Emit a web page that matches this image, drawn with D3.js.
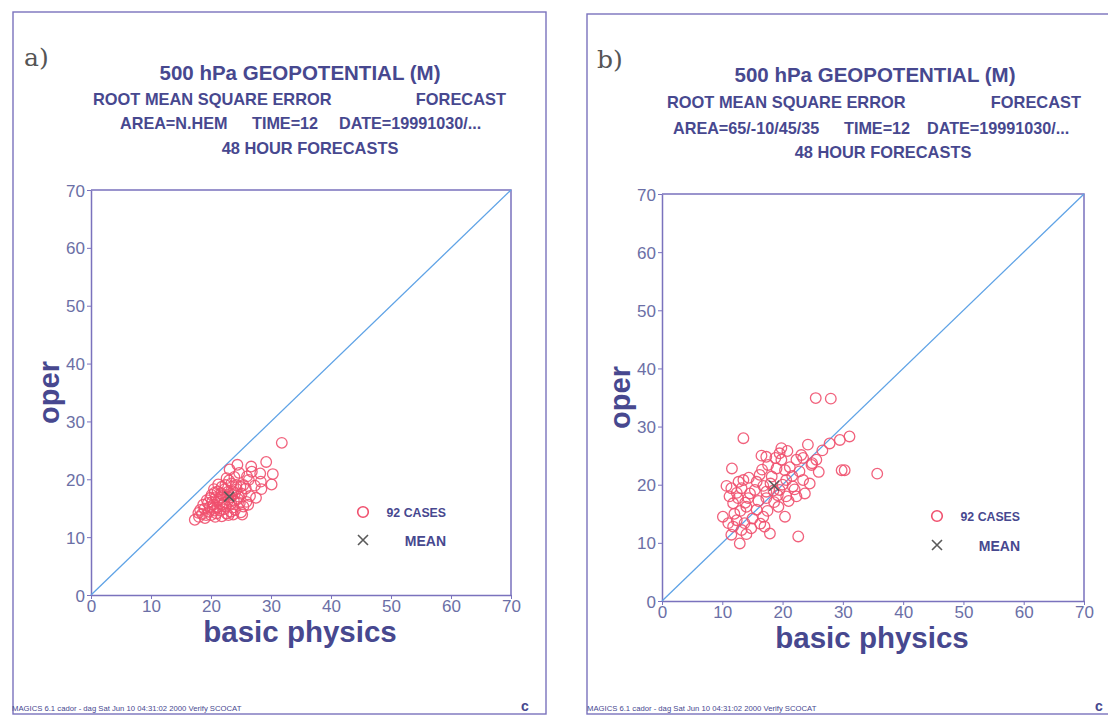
<!DOCTYPE html>
<html><head><meta charset="utf-8">
<script src="https://cdn.jsdelivr.net/npm/d3@7"></script>
<style>
html,body{margin:0;padding:0;background:#fff;}
svg{display:block;font-family:"Liberation Sans",Arial,sans-serif;}
</style></head>
<body><svg id="chart" width="1108" height="715"></svg>
<script>
// ---------- DATA ----------
const axisTicks = [0, 10, 20, 30, 40, 50, 60, 70];
const panelLetters = ["a)", "b)"];
const titleMain = "500 hPa GEOPOTENTIAL (M)";
const titleRow2 = ["ROOT MEAN SQUARE ERROR", "FORECAST"];
const areaTexts = ["AREA=N.HEM", "AREA=65/-10/45/35"];
const timeText = "TIME=12";
const dateText = "DATE=19991030/...";
const titleRow4 = "48 HOUR FORECASTS";
const xLabel = "basic physics";
const yLabel = "oper";
const casesLabel = "92 CASES";
const meanLabel = "MEAN";
const footerText = "MAGICS 6.1 cador - dag Sat Jun 10 04:31:02 2000 Verify SCOCAT";

// panel a: [basic physics, oper]
const pointsA = [
 [31.8,26.3],[29.2,23.0],[24.4,22.5],[26.7,22.2],[24.7,21.1],[26.8,21.3],[28.2,21.0],[30.3,20.9],
 [26.3,19.9],[28.3,19.6],[30.1,19.1],[28.4,18.3],[25.4,19.0],[23.4,19.3],[21.8,18.7],[23.7,17.9],
 [21.1,17.9],[20.1,17.3],[24.6,17.0],[25.9,16.1],[25.4,15.3],[19.3,16.4],[18.7,15.6],[20.4,15.6],
 [21.5,15.8],[23.4,15.8],[18.2,14.7],[19.6,14.4],[20.9,14.1],[22.6,14.1],[24.0,14.7],[17.3,13.0],
 [19.0,13.3],[20.7,13.5],[22.9,13.8],[22.0,17.2],[22.8,17.8],[23.2,16.9],[21.3,16.5],[20.8,16.9],
 [22.2,16.0],[23.8,16.3],[24.3,18.3],[21.7,17.6],[20.2,16.1],[19.8,15.2],[21.0,15.1],[22.5,15.3],
 [23.6,15.1],[24.8,15.9],[25.1,17.5],[26.5,17.1],[22.3,18.3],[23.0,19.8],[21.5,14.6],[20.0,13.8],
 [18.5,14.0],[23.3,14.4],[24.5,16.6],[19.5,15.9],[21.9,15.6],[22.9,16.4],[20.6,17.7],[24.0,17.6],
 [25.8,18.4],[27.3,18.9],[23.9,20.4],[22.6,20.2],[21.2,19.1],[18.9,14.9],[17.9,14.2],[20.3,14.9],
 [23.7,13.9],[25.0,14.3],[26.2,15.6],[22.1,14.8],[21.6,16.9],[23.5,17.3],[19.2,13.8],[18.0,13.5],
 [24.2,19.0],[26.0,20.5],[22.4,19.0],[20.5,18.3],[21.8,13.6],[25.2,13.9],[27.5,16.8],[22.7,17.0],
 [19.9,16.8],[24.9,18.7],[23.1,21.7],[20.6,14.6]
];
// panel b: [basic physics, oper]
const pointsB = [
 [25.5,34.9],[28.0,34.8],[13.5,28.0],[31.1,28.3],[29.5,27.7],[27.8,27.1],[24.2,26.9],[26.6,25.9],
 [19.8,26.3],[19.5,25.4],[16.5,25.0],[17.3,24.8],[23.1,25.1],[23.4,24.6],[24.9,23.7],[19.8,24.3],
 [22.3,24.3],[24.8,23.4],[17.6,23.4],[11.6,22.8],[20.4,22.5],[29.8,22.5],[30.3,22.5],[22.8,22.3],
 [16.2,21.7],[18.2,21.4],[20.6,20.8],[23.4,20.8],[10.7,19.8],[13.5,20.8],[15.7,20.5],[11.5,19.4],
 [13.2,19.4],[15.4,19.1],[17.3,18.8],[19.5,19.1],[21.7,19.7],[23.7,18.5],[20.6,18.0],[22.3,18.0],
 [12.6,17.7],[14.3,17.7],[17.3,17.7],[11.8,16.8],[14.0,16.2],[19.3,16.2],[15.7,15.7],[20.4,14.5],
 [10.1,14.5],[16.8,14.5],[12.4,13.9],[13.7,13.4],[11.0,13.4],[11.8,12.8],[14.8,12.5],[13.2,12.2],
 [17.9,11.6],[11.5,11.4],[22.6,11.1],[12.9,9.9],[35.7,21.9],[18.0,20.2],[19.0,22.8],[21.2,23.0],
 [16.8,19.8],[14.6,18.5],[18.6,17.0],[21.0,17.2],[16.0,17.2],[13.0,15.5],[15.0,14.2],[12.0,15.0],
 [17.5,15.5],[18.5,19.0],[20.0,20.0],[21.6,21.5],[14.4,21.2],[12.4,18.6],[16.6,22.6],[22.0,19.2],
 [19.2,18.2],[24.5,20.2],[25.6,24.3],[20.8,25.8],[18.8,24.6],[13.8,16.9],[11.2,18.0],[16.3,13.3],
 [14.0,11.5],[12.7,20.5],[17.0,12.8],[26.0,22.2]
];

// ---------- STYLE / LAYOUT ----------
const C = {
  text: "#47488f", tick: "#6b6fa6", frame: "#7a72bd", diag: "#5fa3e6",
  circle: "#f0506e", mean: "#5a5a5a", letter: "#555"
};

const panels = [
 { letter: panelLetters[0], pts: pointsA,
   frame: {x1: 13, y1: 12, x2: 546, y2: 714},
   xr: [91, 511], yr: [595, 190],
   letterPos: [24, 66],
   titleY: [80, 105, 129, 154], titleX: 300, row2: [93, 506],
   row3: [[120, areaTexts[0]], [252, timeText], [339, dateText]], row4X: 310,
   legend: {cx: 363, cy: 512, tx: 446, my: 540},
   footer: [12, 711], logo: [521, 711] },
 { letter: panelLetters[1], pts: pointsB,
   frame: {x1: 587, y1: 14, x2: 1140, y2: 714},
   xr: [662, 1084], yr: [601, 194],
   letterPos: [597, 68],
   titleY: [82, 108, 134, 158], titleX: 875, row2: [667, 1081],
   row3: [[673, areaTexts[1]], [844, timeText], [927, dateText]], row4X: 883,
   legend: {cx: 937, cy: 516, tx: 1020, my: 545},
   footer: [587, 711], logo: [1095, 711] }
];

const svg = d3.select("#chart");

panels.forEach(p => {
  const g = svg.append("g");
  // outer frame
  g.append("rect").attr("x", p.frame.x1).attr("y", p.frame.y1)
    .attr("width", p.frame.x2 - p.frame.x1).attr("height", p.frame.y2 - p.frame.y1)
    .attr("fill", "none").attr("stroke", C.frame).attr("stroke-width", 1.4);

  // panel letter
  g.append("text").attr("x", p.letterPos[0]).attr("y", p.letterPos[1])
    .attr("font-family", "'DejaVu Serif','Liberation Serif',serif").attr("font-size", 25)
    .attr("fill", C.letter).text(p.letter);

  // titles
  const bold = s => s.attr("font-weight", "bold").attr("fill", C.text);
  bold(g.append("text").attr("x", p.titleX).attr("y", p.titleY[0]).attr("text-anchor", "middle")
    .attr("font-size", 20.5).text(titleMain));
  bold(g.append("text").attr("x", p.row2[0]).attr("y", p.titleY[1]).attr("font-size", 16.4).text(titleRow2[0]));
  bold(g.append("text").attr("x", p.row2[1]).attr("y", p.titleY[1]).attr("text-anchor", "end").attr("font-size", 16.4).text(titleRow2[1]));
  p.row3.forEach(([x, t]) => bold(g.append("text").attr("x", x).attr("y", p.titleY[2]).attr("font-size", 16.2).text(t)));
  bold(g.append("text").attr("x", p.row4X).attr("y", p.titleY[3]).attr("text-anchor", "middle").attr("font-size", 16.4).text(titleRow4));

  // scales
  const x = d3.scaleLinear().domain([0, 70]).range(p.xr);
  const y = d3.scaleLinear().domain([0, 70]).range(p.yr);

  // plot box (top & right)
  g.append("path").attr("d", `M${x(0)},${y(70)}H${x(70)}V${y(0)}`)
    .attr("fill", "none").attr("stroke", C.frame).attr("stroke-width", 1.5);

  // axes
  const xa = g.append("g").attr("transform", `translate(0,${y(0)})`)
    .call(d3.axisBottom(x).tickValues(axisTicks).tickSize(4).tickPadding(1).tickSizeOuter(0));
  const ya = g.append("g").attr("transform", `translate(${x(0)},0)`)
    .call(d3.axisLeft(y).tickValues(axisTicks).tickSize(4).tickPadding(2).tickSizeOuter(0));
  [xa, ya].forEach(a => {
    a.select(".domain").attr("stroke", C.frame).attr("stroke-width", 1.5);
    a.selectAll(".tick line").attr("stroke", C.frame).attr("stroke-width", 1);
    a.selectAll(".tick text").attr("fill", C.tick).attr("font-size", 17)
      .attr("font-family", "'Liberation Sans',Arial,sans-serif");
  });
  ya.selectAll(".tick text").attr("dy", "0.36em");

  // diagonal
  g.append("line").attr("x1", x(0)).attr("y1", y(0)).attr("x2", x(70)).attr("y2", y(70))
    .attr("stroke", C.diag).attr("stroke-width", 1.3);

  // points
  g.append("g").selectAll("circle").data(p.pts).join("circle")
    .attr("cx", d => x(d[0])).attr("cy", d => y(d[1])).attr("r", 5.3)
    .attr("fill", "none").attr("stroke", C.circle).attr("stroke-width", 1.3).attr("stroke-opacity", 0.9);

  // mean marker
  const mx = d3.mean(p.pts, d => d[0]), my = d3.mean(p.pts, d => d[1]);
  const cross = (cx, cy, s) => `M${cx - s},${cy - s}L${cx + s},${cy + s}M${cx - s},${cy + s}L${cx + s},${cy - s}`;
  g.append("path").attr("d", cross(x(mx), y(my), 5)).attr("stroke", C.mean).attr("stroke-width", 1.6).attr("fill", "none");

  // axis titles
  bold(g.append("text").attr("x", (p.xr[0] + p.xr[1]) / 2 - 1).attr("y", p.yr[0] + 47)
    .attr("text-anchor", "middle").attr("font-size", 29.5).text(xLabel));
  bold(g.append("text").attr("transform", `translate(${p.xr[0] - 32},${(p.yr[0] + p.yr[1]) / 2}) rotate(-90)`)
    .attr("text-anchor", "middle").attr("font-size", 29).text(yLabel));

  // legend
  const L = p.legend;
  g.append("circle").attr("cx", L.cx).attr("cy", L.cy).attr("r", 5.3)
    .attr("fill", "none").attr("stroke", C.circle).attr("stroke-width", 1.6);
  bold(g.append("text").attr("x", L.tx).attr("y", L.cy + 4.5).attr("text-anchor", "end").attr("font-size", 12.3).text(casesLabel));
  g.append("path").attr("d", cross(L.cx, L.my, 5)).attr("stroke", C.mean).attr("stroke-width", 1.6).attr("fill", "none");
  bold(g.append("text").attr("x", L.tx).attr("y", L.my + 5.5).attr("text-anchor", "end").attr("font-size", 14).text(meanLabel));

  // footer
  g.append("text").attr("x", p.footer[0]).attr("y", p.footer[1]).attr("font-size", 7.7)
    .attr("fill", C.text).text(footerText);
  g.append("text").attr("x", p.logo[0]).attr("y", p.logo[1]).attr("font-size", 14)
    .attr("font-weight", "bold").attr("fill", C.text).text("c");
});
</script></body></html>
